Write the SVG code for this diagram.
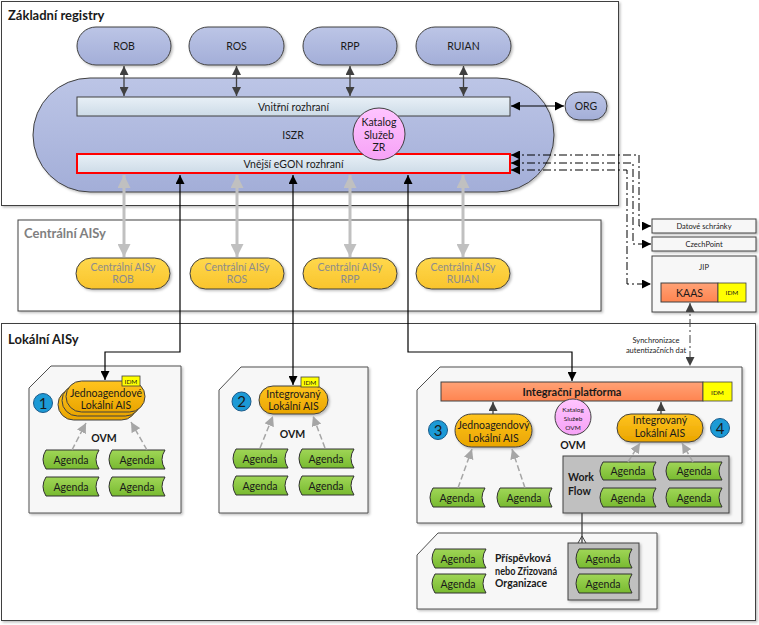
<svg xmlns="http://www.w3.org/2000/svg" width="759" height="625" viewBox="0 0 759 625">
<style>
text{font-family:Lato,"Liberation Sans","DejaVu Sans",sans-serif;fill:#1a1a1a;text-anchor:middle}
.t{font-size:10.5px}
.tb{font-size:10.5px;font-weight:bold}
.title{font-size:13px;font-weight:bold;text-anchor:start}
.sm{font-size:7.5px}
.xs{font-size:6.5px}
.box{fill:#fff;stroke:#404040;stroke-width:1}
.panel{fill:#f7f7f7;stroke:#505050;stroke-width:1}
.blue{fill:url(#gBlue);stroke:#404040;stroke-width:1}
.iface{fill:url(#gIface);stroke:#404040;stroke-width:1}
.ylw{fill:url(#gYlw);stroke:#404040;stroke-width:1}
.org{fill:url(#gOrg);stroke:#404040;stroke-width:1}
.grn{fill:url(#gGrn);stroke:#303030;stroke-width:1}
.idm{fill:#ffff00;stroke:#404040;stroke-width:0.8}
.plat{fill:url(#gPlat);stroke:#404040;stroke-width:1}
.pink{fill:url(#gPink);stroke:#404040;stroke-width:1}
.num{fill:#1c9ad6;stroke:#1a5a8a;stroke-width:1}
.gray{fill:#c0c0c0;stroke:#404040;stroke-width:1}
.sh{filter:url(#sh)}
.cD{fill:none;stroke:#404040;stroke-width:1.3}
.cK{fill:none;stroke:#000;stroke-width:1.2}
.cG{fill:none;stroke:#c0c0c0;stroke-width:3}
.cDash{fill:none;stroke:#a6a6a6;stroke-width:1.5;stroke-dasharray:6,3}
.cDD{fill:none;stroke:#000;stroke-width:1;stroke-dasharray:8,3,2,3}
</style>
<defs>
<filter id="sh" x="-10%" y="-10%" width="130%" height="140%"><feDropShadow dx="1.5" dy="1.5" stdDeviation="1" flood-color="#000" flood-opacity="0.25"/></filter>
<linearGradient id="gBlue" x1="0" y1="0" x2="0" y2="1"><stop offset="0" stop-color="#bcc5e6"/><stop offset="1" stop-color="#a3aed8"/></linearGradient>
<linearGradient id="gIface" x1="0" y1="0" x2="0" y2="1"><stop offset="0" stop-color="#e8f0f7"/><stop offset="1" stop-color="#cddbe7"/></linearGradient>
<linearGradient id="gYlw" x1="0" y1="0" x2="0" y2="1"><stop offset="0" stop-color="#ffd84c"/><stop offset="1" stop-color="#f9c42c"/></linearGradient>
<linearGradient id="gOrg" x1="0" y1="0" x2="0" y2="1"><stop offset="0" stop-color="#ffc41e"/><stop offset="1" stop-color="#eaa500"/></linearGradient>
<linearGradient id="gGrn" x1="0" y1="0" x2="0" y2="1"><stop offset="0" stop-color="#a0d657"/><stop offset="1" stop-color="#78ba30"/></linearGradient>
<linearGradient id="gPlat" x1="0" y1="0" x2="0" y2="1"><stop offset="0" stop-color="#ffa276"/><stop offset="1" stop-color="#ff8450"/></linearGradient>
<linearGradient id="gPink" x1="0" y1="0" x2="0" y2="1"><stop offset="0" stop-color="#ffc4ff"/><stop offset="1" stop-color="#f6a2f6"/></linearGradient>
<marker id="mD" viewBox="0 0 10 10" refX="10" refY="5" markerWidth="9" markerHeight="9" markerUnits="userSpaceOnUse" orient="auto-start-reverse"><path d="M0,0L10,5L0,10z" fill="#404040"/></marker>
<marker id="mK" viewBox="0 0 10 10" refX="10" refY="5" markerWidth="9" markerHeight="9" markerUnits="userSpaceOnUse" orient="auto-start-reverse"><path d="M0,0L10,5L0,10z" fill="#000"/></marker>
<marker id="mG" viewBox="0 0 10 10" refX="10" refY="5" markerWidth="13" markerHeight="13" markerUnits="userSpaceOnUse" orient="auto-start-reverse"><path d="M0,0L10,5L0,10z" fill="#c0c0c0"/></marker>
<marker id="mL" viewBox="0 0 10 10" refX="10" refY="5" markerWidth="10" markerHeight="10" markerUnits="userSpaceOnUse" orient="auto-start-reverse"><path d="M0,0L10,5L0,10z" fill="#a6a6a6"/></marker>
</defs>

<!-- containers -->
<g id="zakladni-registry">
<rect class="box sh" x="1.5" y="1.5" width="617" height="204"/>
<text class="title" x="8" y="20">Základní registry</text>
</g>
<g id="centralni-aisy">
<rect class="box sh" x="18" y="220" width="583" height="91"/>
<text class="title" x="24" y="238" style="fill:#808080">Centrální AISy</text>
</g>
<g id="lokalni-aisy">
<rect class="box sh" x="1.5" y="323.5" width="754" height="297"/>
<text class="title" x="8" y="344">Lokální AISy</text>
</g>

<!-- top registries -->
<g id="rob"><rect class="blue sh" x="77" y="27" width="94" height="38" rx="19"/><text class="t" x="124" y="50">ROB</text></g>
<g id="ros"><rect class="blue sh" x="189" y="27" width="95" height="38" rx="19"/><text class="t" x="236.5" y="50">ROS</text></g>
<g id="rpp"><rect class="blue sh" x="303" y="27" width="94" height="38" rx="19"/><text class="t" x="350" y="50">RPP</text></g>
<g id="ruian"><rect class="blue sh" x="416" y="27" width="95" height="38" rx="19"/><text class="t" x="463.5" y="50">RUIAN</text></g>

<g id="iszr">
<rect class="blue sh" x="33" y="78" width="521" height="114" rx="57"/>
<text class="t" x="293" y="139">ISZR</text>
</g>
<g id="vnitrni-rozhrani"><rect class="iface" x="77" y="97" width="433" height="19"/><text class="t" x="293.5" y="110.5">Vnitřní rozhraní</text></g>
<g id="vnejsi-rozhrani"><rect class="iface" x="77" y="154" width="433" height="19" style="stroke:#ff0000;stroke-width:2"/><text class="t" x="293.5" y="167.5">Vnější eGON rozhraní</text></g>
<g id="katalog-zr"><circle class="pink" cx="379" cy="134" r="26"/><text class="t" x="379" y="125.5">Katalog</text><text class="t" x="379" y="138.5">Služeb</text><text class="t" x="379" y="151">ZR</text></g>
<g id="org"><rect class="blue sh" x="565" y="92" width="42" height="28" rx="14"/><text class="t" x="586" y="110">ORG</text></g>

<!-- right services -->
<g id="datove-schranky"><rect class="box sh" x="652" y="219" width="104" height="14" style="fill:#f7f7f7"/><text class="sm" x="704" y="229">Datové schránky</text></g>
<g id="czechpoint"><rect class="box sh" x="652" y="237" width="104" height="14" style="fill:#f7f7f7"/><text class="sm" x="704" y="247">CzechPoint</text></g>
<g id="jip">
<rect class="box sh" x="652" y="256" width="104" height="56" style="fill:#f7f7f7"/>
<text class="sm" x="704" y="270">JIP</text>
<rect class="plat" x="661" y="283" width="57" height="19"/><text class="t" x="689.5" y="296.5">KAAS</text>
<rect class="idm" x="718" y="283" width="28" height="19"/><text class="xs" x="732" y="295">IDM</text>
</g>

<!-- central AIS -->
<g id="c-rob"><rect class="ylw sh" x="76" y="258" width="94" height="31" rx="15.5"/><text class="t" x="123" y="270.5" style="fill:#8c8c8c">Centrální AISy</text><text class="t" x="123" y="283" style="fill:#8c8c8c">ROB</text></g>
<g id="c-ros"><rect class="ylw sh" x="190" y="258" width="94" height="31" rx="15.5"/><text class="t" x="237" y="270.5" style="fill:#8c8c8c">Centrální AISy</text><text class="t" x="237" y="283" style="fill:#8c8c8c">ROS</text></g>
<g id="c-rpp"><rect class="ylw sh" x="303" y="258" width="94" height="31" rx="15.5"/><text class="t" x="350" y="270.5" style="fill:#8c8c8c">Centrální AISy</text><text class="t" x="350" y="283" style="fill:#8c8c8c">RPP</text></g>
<g id="c-ruian"><rect class="ylw sh" x="416" y="258" width="94" height="31" rx="15.5"/><text class="t" x="463" y="270.5" style="fill:#8c8c8c">Centrální AISy</text><text class="t" x="463" y="283" style="fill:#8c8c8c">RUIAN</text></g>

<!-- panel 1 -->
<g id="panel-1">
<path class="panel sh" d="M29,388L51,366H181V513H29Z"/>
<circle class="num" cx="43" cy="403" r="9.5"/><text x="43" y="408.5" style="font-size:15px">1</text>
<rect class="org" x="58" y="389" width="79" height="31" rx="15.5"/>
<rect class="org" x="62" y="385" width="79" height="31" rx="15.5"/>
<rect class="org" x="66" y="381" width="79" height="31" rx="15.5"/>
<text class="t" x="106" y="397">Jednoagendové</text><text class="t" x="106" y="409">Lokální AIS</text>
<rect class="idm" x="122" y="376" width="18" height="10"/><text class="xs" x="131" y="383.5">IDM</text>
<text class="tb" x="104" y="442">OVM</text>
<path class="grn" d="M46,450H99Q93,459.5 99,469H46Q40,459.5 46,450Z"/><text class="t" x="71" y="463.5">Agenda</text>
<path class="grn" d="M112,450H165Q159,459.5 165,469H112Q106,459.5 112,450Z"/><text class="t" x="137" y="463.5">Agenda</text>
<path class="grn" d="M46,477H99Q93,486.5 99,496H46Q40,486.5 46,477Z"/><text class="t" x="71" y="490.5">Agenda</text>
<path class="grn" d="M112,477H165Q159,486.5 165,496H112Q106,486.5 112,477Z"/><text class="t" x="137" y="490.5">Agenda</text>
</g>

<!-- panel 2 -->
<g id="panel-2">
<path class="panel sh" d="M219,390L241,367H368V513H219Z"/>
<circle class="num" cx="241.5" cy="401.5" r="9.5"/><text x="241.5" y="407" style="font-size:15px">2</text>
<rect class="org sh" x="259" y="386" width="69" height="28" rx="14"/>
<text class="t" x="293.5" y="397.5">Integrovaný</text><text class="t" x="293.5" y="410">Lokální AIS</text>
<rect class="idm" x="301" y="377" width="18" height="10"/><text class="xs" x="310" y="384.5">IDM</text>
<text class="tb" x="292.5" y="438">OVM</text>
<path class="grn" d="M236,449H288Q282,458.5 288,468H236Q230,458.5 236,449Z"/><text class="t" x="260" y="462.5">Agenda</text>
<path class="grn" d="M302,449H354Q348,458.5 354,468H302Q296,458.5 302,449Z"/><text class="t" x="326" y="462.5">Agenda</text>
<path class="grn" d="M236,476H288Q282,485.5 288,495H236Q230,485.5 236,476Z"/><text class="t" x="260" y="489.5">Agenda</text>
<path class="grn" d="M302,476H354Q348,485.5 354,495H302Q296,485.5 302,476Z"/><text class="t" x="326" y="489.5">Agenda</text>
</g>

<!-- panel 3 -->
<g id="panel-3">
<path class="panel sh" d="M417,390L440,367H742V523H417Z"/>
<rect class="plat" x="441" y="382" width="262" height="19"/><text x="572" y="395.5" style="font-size:11px;font-weight:bold">Integrační platforma</text>
<rect class="idm" x="703" y="382" width="29" height="19"/><text class="xs" x="717.5" y="394.5">IDM</text>
<circle class="num" cx="438" cy="430" r="9.5"/><text x="438" y="435.5" style="font-size:15px">3</text>
<circle class="num" cx="720" cy="428" r="9.5"/><text x="720" y="433.5" style="font-size:15px">4</text>
<rect class="org sh" x="455" y="414" width="77" height="33" rx="16.5"/>
<text class="t" x="493.5" y="428.5">Jednoagendový</text><text class="t" x="493.5" y="442">Lokální AIS</text>
<circle class="pink" cx="573" cy="417" r="18"/>
<text class="xs" x="573" y="412">Katalog</text><text class="xs" x="573" y="420.5">Služeb</text><text class="xs" x="573" y="429.5">OVM</text>
<text class="tb" x="573" y="449">OVM</text>
<rect class="org sh" x="617" y="414" width="86" height="28" rx="14"/>
<text class="t" x="660" y="424">Integrovaný</text><text class="t" x="660" y="437">Lokální AIS</text>
<path class="grn" d="M433,488H485Q479,497.5 485,507H433Q427,497.5 433,488Z"/><text class="t" x="457" y="501.5">Agenda</text>
<path class="grn" d="M500,488H552Q546,497.5 552,507H500Q494,497.5 500,488Z"/><text class="t" x="524" y="501.5">Agenda</text>
<rect class="gray sh" x="563" y="456" width="166" height="57"/>
<text class="tb" x="568" y="481" style="text-anchor:start">Work</text><text class="tb" x="568" y="494.5" style="text-anchor:start">Flow</text>
<path class="grn" d="M603,462H656Q650,471 656,480H603Q597,471 603,462Z"/><text class="t" x="628" y="475">Agenda</text>
<path class="grn" d="M669,462H722Q716,471 722,480H669Q663,471 669,462Z"/><text class="t" x="694" y="475">Agenda</text>
<path class="grn" d="M603,488H656Q650,497.5 656,507H603Q597,497.5 603,488Z"/><text class="t" x="628" y="501.5">Agenda</text>
<path class="grn" d="M669,488H722Q716,497.5 722,507H669Q663,497.5 669,488Z"/><text class="t" x="694" y="501.5">Agenda</text>
</g>

<!-- panel 4 -->
<g id="panel-4">
<path class="panel sh" d="M417,555L438,533H657V609H417Z"/>
<path class="grn" d="M435,549H486Q480,558.5 486,568H435Q429,558.5 435,549Z"/><text class="t" x="458" y="562.5">Agenda</text>
<path class="grn" d="M435,574H486Q480,583.5 486,593H435Q429,583.5 435,574Z"/><text class="t" x="458" y="587.5">Agenda</text>
<text class="tb" x="495" y="562" style="text-anchor:start" textLength="56" lengthAdjust="spacingAndGlyphs">Příspěvková</text>
<text class="tb" x="495" y="574.5" style="text-anchor:start" textLength="62" lengthAdjust="spacingAndGlyphs">nebo Zřizovaná</text>
<text class="tb" x="495" y="586.5" style="text-anchor:start" textLength="52" lengthAdjust="spacingAndGlyphs">Organizace</text>
<rect class="gray sh" x="568" y="543" width="71" height="57"/>
<path class="grn" d="M579,549H632Q626,558.5 632,568H579Q573,558.5 579,549Z"/><text class="t" x="603" y="562.5">Agenda</text>
<path class="grn" d="M579,574H632Q626,583.5 632,593H579Q573,583.5 579,574Z"/><text class="t" x="603" y="587.5">Agenda</text>
</g>

<!-- connectors -->
<g id="connectors">
<line class="cD" x1="124" y1="66" x2="124" y2="96" marker-start="url(#mD)" marker-end="url(#mD)"/>
<line class="cD" x1="236.5" y1="66" x2="236.5" y2="96" marker-start="url(#mD)" marker-end="url(#mD)"/>
<line class="cD" x1="350" y1="66" x2="350" y2="96" marker-start="url(#mD)" marker-end="url(#mD)"/>
<line class="cD" x1="463.5" y1="66" x2="463.5" y2="96" marker-start="url(#mD)" marker-end="url(#mD)"/>
<line class="cK" x1="511" y1="106" x2="564" y2="106" marker-start="url(#mK)" marker-end="url(#mK)"/>
<path class="cDD" d="M511,155H639V226H651" marker-start="url(#mK)" marker-end="url(#mK)"/>
<path class="cDD" d="M511,163H633V244H651" marker-start="url(#mK)" marker-end="url(#mK)"/>
<path class="cDD" d="M511,170H627V284H651" marker-start="url(#mK)" marker-end="url(#mK)"/>
<line class="cG" x1="124" y1="175" x2="124" y2="257" marker-start="url(#mG)" marker-end="url(#mG)"/>
<line class="cG" x1="237" y1="175" x2="237" y2="257" marker-start="url(#mG)" marker-end="url(#mG)"/>
<line class="cG" x1="350" y1="175" x2="350" y2="257" marker-start="url(#mG)" marker-end="url(#mG)"/>
<line class="cG" x1="463" y1="175" x2="463" y2="257" marker-start="url(#mG)" marker-end="url(#mG)"/>
<path class="cK" d="M180,175V352H105V380" marker-start="url(#mK)" marker-end="url(#mK)"/>
<path class="cK" d="M293,175V385" marker-start="url(#mK)" marker-end="url(#mK)"/>
<path class="cK" d="M408,175V352H572V381" marker-start="url(#mK)" marker-end="url(#mK)"/>
<line class="cDD" x1="690" y1="303" x2="690" y2="366" style="stroke:#404040" marker-start="url(#mD)" marker-end="url(#mD)"/>
<text class="sm" x="656" y="342.5">Synchronizace</text>
<text class="sm" x="656" y="352.5">autentizačních dat</text>
<line class="cDash" x1="72" y1="450" x2="86" y2="423" marker-end="url(#mL)"/>
<line class="cDash" x1="147" y1="450" x2="131" y2="422" marker-end="url(#mL)"/>
<line class="cDash" x1="260" y1="448" x2="273" y2="416" marker-end="url(#mL)"/>
<line class="cDash" x1="325" y1="448" x2="313" y2="416" marker-end="url(#mL)"/>
<line class="cDash" x1="458" y1="488" x2="472" y2="449" marker-end="url(#mL)"/>
<line class="cDash" x1="525" y1="488" x2="512" y2="449" marker-end="url(#mL)"/>
<line class="cDash" x1="628" y1="462" x2="640" y2="443" marker-end="url(#mL)"/>
<line class="cDash" x1="693" y1="462" x2="682" y2="443" marker-end="url(#mL)"/>
<line class="cD" x1="493" y1="414" x2="493" y2="402" marker-end="url(#mD)"/>
<line class="cD" x1="661" y1="414" x2="661" y2="402" marker-end="url(#mD)"/>
<line class="cD" x1="582" y1="513" x2="582" y2="543"/>
<polyline class="cD" points="578,543 582,536 586,543" style="stroke-width:1"/>
</g>
</svg>
